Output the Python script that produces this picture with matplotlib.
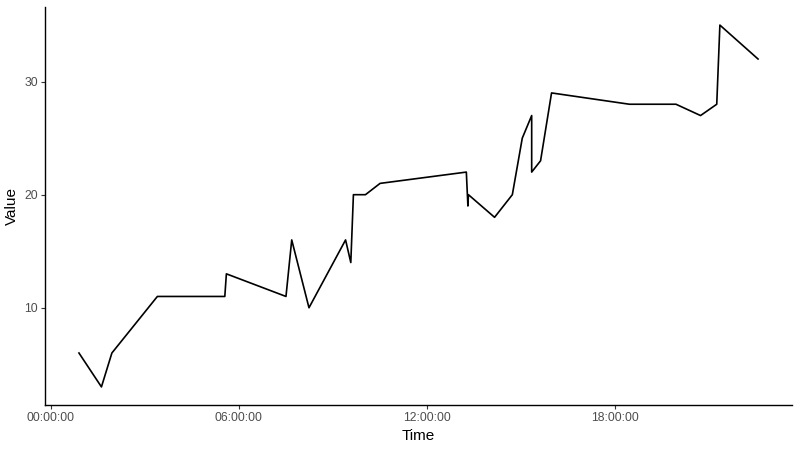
import matplotlib
matplotlib.use("Agg")
import matplotlib.pyplot as plt
import matplotlib.dates as mdates
import pandas as pd

# times of day and values
tiempos = ["00:54", "01:37", "01:57", "03:24", "05:33", "05:36", "07:30", "07:41",
           "08:14", "09:24", "09:34", "09:39", "10:02", "10:30", "13:15", "13:18",
           "13:19", "14:09", "14:43", "15:02", "15:20", "15:20", "15:37", "15:58",
           "18:27", "19:56", "20:43", "21:14", "21:20", "22:33"]
valores = [6, 3, 6, 11, 11, 13, 11, 16, 10, 16, 14, 20, 20, 21, 22, 19,
           20, 18, 20, 25, 27, 22, 23, 29, 28, 28, 27, 28, 35, 32]

marcas = ["00:00", "06:00", "12:00", "18:00"]

plt.rcParams['font.family'] = ['Liberation Sans', 'DejaVu Sans']

t = pd.to_datetime(["2000-01-01 " + s for s in tiempos])
ticks = pd.to_datetime(["2000-01-01 " + s for s in marcas])

fig = plt.figure(figsize=(8, 4.5), dpi=100)
ax = fig.add_axes([45 / 800, 45 / 450, 747 / 800, 398 / 450])
ax.plot(t, valores, color='black', linewidth=1.2)

# margen del 5% como en ggplot
ax.margins(x=0.05, y=0.05)
ax.set_xticks(ticks)
ax.xaxis.set_major_formatter(mdates.DateFormatter('%H:%M:%S'))
ax.set_yticks([10, 20, 30])

for lado in ['top', 'right']:
    ax.spines[lado].set_visible(False)
for lado in ['left', 'bottom']:
    ax.spines[lado].set_linewidth(1.0)
    ax.spines[lado].set_color('black')

ax.tick_params(axis='both', length=3, width=0.8, color='#333333',
               labelsize=8.8, labelcolor='#4D4D4D', pad=2)
ax.set_xlabel("Time", fontsize=11, labelpad=4)
ax.set_ylabel("Value", fontsize=11, labelpad=4)

fig.savefig("out.png", dpi=100)
